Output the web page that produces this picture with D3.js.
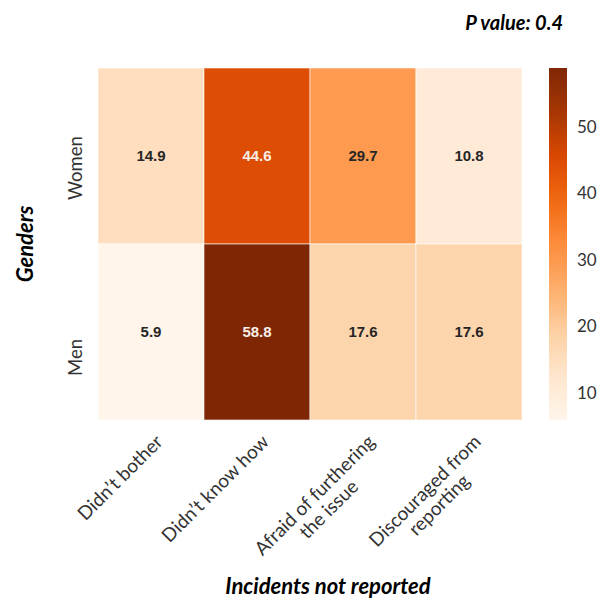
<!DOCTYPE html>
<html>
<head>
<meta charset="utf-8">
<script src="https://cdn.jsdelivr.net/npm/d3@7"></script>
<style>
  body { margin: 0; background: #fff; }
  svg { display: block; }
</style>
</head>
<body>
<svg id="chart" width="611" height="602"></svg>
<script>
// Share of unreported incidents by reason, per gender (%)
const genders = ["Women", "Men"];
const reasons = [
  ["Didn’t bother"],
  ["Didn’t know how"],
  ["Afraid of furthering", "the issue"],
  ["Discouraged from", "reporting"]
];
const womenValues = [14.9, 44.6, 29.7, 10.8];
const menValues = [5.9, 58.8, 17.6, 17.6];
const colorbarTicks = [10, 20, 30, 40, 50];
const pValueLabel = "P value: 0.4";
const xTitle = "Incidents not reported";
const yTitle = "Genders";

const rowsByGender = { Women: womenValues, Men: menValues };
const cells = [];
genders.forEach(g => rowsByGender[g].forEach((v, i) => cells.push({ gender: g, reason: i, value: v })));

const svg = d3.select("#chart");
const labelFont = "Lato, 'Open Sans', sans-serif";

const plot = { left: 98, right: 522, top: 68, bottom: 420 };
const x = d3.scaleBand().domain(d3.range(reasons.length)).range([plot.left, plot.right]);
const y = d3.scaleBand().domain(genders).range([plot.top, plot.bottom]);

const extent = d3.extent(cells, d => d.value);
const color = d3.scaleSequential(d3.piecewise(d3.interpolateRgb, d3.schemeOranges[9])).domain(extent);

// heatmap cells
svg.append("g").selectAll("rect").data(cells).join("rect")
  .attr("x", d => x(d.reason))
  .attr("y", d => y(d.gender))
  .attr("width", x.bandwidth())
  .attr("height", y.bandwidth())
  .attr("fill", d => color(d.value))
  .attr("stroke", "rgba(255,255,255,0.6)")
  .attr("stroke-width", 1);

// value annotations
svg.append("g").selectAll("text").data(cells).join("text")
  .attr("x", d => x(d.reason) + x.bandwidth() / 2)
  .attr("y", d => y(d.gender) + y.bandwidth() / 2)
  .attr("dy", "0.36em")
  .attr("text-anchor", "middle")
  .attr("font-family", "'Liberation Sans', Arial, sans-serif")
  .attr("font-weight", "bold")
  .attr("font-size", 15)
  .attr("fill", d => {
    const c = d3.lab(color(d.value));
    return c.l < 55 ? "#f7efe9" : "#262626";
  })
  .text(d => d.value.toFixed(1));

// gender labels (rotated)
svg.append("g").selectAll("text").data(genders).join("text")
  .attr("transform", d => `translate(82,${y(d) + y.bandwidth() / 2 + 44}) rotate(-90)`)
  .attr("text-anchor", "start")
  .attr("font-family", labelFont)
  .attr("font-size", 18.5)
  .attr("fill", "#333")
  .text(d => d);

// reason labels, rotated 45°, right end near each column
const tickSize = 19;
const xl = svg.append("g").selectAll("g").data(reasons).join("g")
  .attr("transform", (d, i) => `translate(${x(i) + x.bandwidth() / 2 + 13},443) rotate(-45)`);
xl.each(function (lines) {
  const g = d3.select(this);
  const first = g.append("text")
    .attr("text-anchor", "end")
    .attr("font-family", labelFont)
    .attr("font-size", tickSize)
    .attr("fill", "#333")
    .text(lines[0]);
  const w = first.node().getComputedTextLength();
  lines.slice(1).forEach((ln, k) => {
    g.append("text")
      .attr("x", -w / 2)
      .attr("y", 20 * (k + 1))
      .attr("text-anchor", "middle")
      .attr("font-family", labelFont)
      .attr("font-size", tickSize)
      .attr("fill", "#333")
      .text(ln);
  });
});

// colorbar
const cb = { x: 549, width: 18 };
const cbScale = d3.scaleLinear().domain(extent).range([plot.bottom, plot.top]);
const grad = svg.append("defs").append("linearGradient")
  .attr("id", "cbgrad").attr("x1", 0).attr("y1", 1).attr("x2", 0).attr("y2", 0);
d3.range(0, 1.0001, 0.05).forEach(t => {
  grad.append("stop")
    .attr("offset", t)
    .attr("stop-color", color(extent[0] + t * (extent[1] - extent[0])));
});
svg.append("rect")
  .attr("x", cb.x).attr("y", plot.top)
  .attr("width", cb.width).attr("height", plot.bottom - plot.top)
  .attr("fill", "url(#cbgrad)");

const cbAxis = svg.append("g")
  .attr("transform", `translate(${cb.x + cb.width},0)`)
  .call(d3.axisRight(cbScale).tickValues(colorbarTicks).tickSize(0).tickPadding(10));
cbAxis.select(".domain").remove();
cbAxis.selectAll("text")
  .attr("font-family", labelFont)
  .attr("font-size", 17)
  .attr("fill", "#333");

// titles
svg.append("text")
  .attr("transform", `translate(33,${(plot.top + plot.bottom) / 2}) rotate(-90)`)
  .attr("text-anchor", "middle")
  .attr("font-family", labelFont)
  .attr("font-weight", "bold")
  .attr("font-style", "italic")
  .attr("font-size", 22)
  .attr("fill", "#000")
  .text(yTitle);

svg.append("text")
  .attr("x", 328).attr("y", 594)
  .attr("text-anchor", "middle")
  .attr("font-family", labelFont)
  .attr("font-weight", "bold")
  .attr("font-style", "italic")
  .attr("font-size", 22)
  .attr("fill", "#000")
  .text(xTitle);

svg.append("text")
  .attr("x", 563).attr("y", 30)
  .attr("text-anchor", "end")
  .attr("font-family", labelFont)
  .attr("font-weight", "bold")
  .attr("font-style", "italic")
  .attr("font-size", 20)
  .attr("fill", "#000")
  .text(pValueLabel);
</script>
</body>
</html>
